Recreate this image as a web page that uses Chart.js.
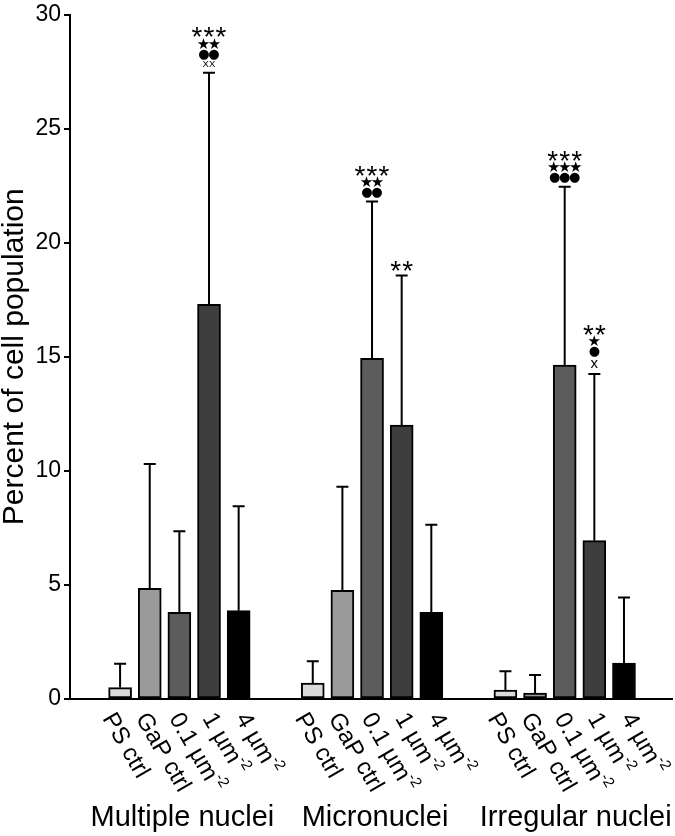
<!DOCTYPE html>
<html>
<head>
<meta charset="utf-8">
<script src="https://cdn.jsdelivr.net/npm/chart.js@4.4.0/dist/chart.umd.min.js"></script>
<style>
  html, body { margin: 0; padding: 0; background: #fff; }
</style>
</head>
<body>
<canvas id="chart" width="675" height="836"></canvas>
<script>
// --- data ---
const groups = ['Multiple nuclei', 'Micronuclei', 'Irregular nuclei'];
const conditions = ['PS ctrl', 'GaP ctrl', '0.1 µm', '1 µm', '4 µm'];
const conditionSup = ['', '', '-2', '-2', '-2'];
const conditionColors = ['#dadada', '#9a9a9a', '#5c5c5c', '#3e3e3e', '#000000'];

const multipleMean = [0.5, 4.85, 3.8, 17.3, 3.87];
const multipleErr = [1.05, 5.45, 3.55, 10.15, 4.58];
const microMean = [0.7, 4.76, 14.93, 12.0, 3.8];
const microErr = [0.95, 4.54, 6.87, 6.56, 3.84];
const irregularMean = [0.39, 0.26, 14.63, 6.94, 1.57];
const irregularErr = [0.83, 0.79, 7.82, 7.3, 2.88];

// significance marks, top line first
const multipleSig = [[], [], [], ['***', '★★', '●●', 'XX'], []];
const microSig = [[], [], ['***', '★★', '●●'], ['**'], []];
const irregularSig = [[], [], ['***', '★★★', '●●●'], ['**', '★', '●', 'x'], []];

const yMin = 0, yMax = 30, yStep = 5;
const yTitle = 'Percent of cell population';

// --- layout ---
const groupStep = 6.5; // bar slots from one group to the next
const FONT = '"Liberation Sans", Arial, Helvetica, sans-serif';
const SYM = '"DejaVu Sans", sans-serif';
const labelAngle = 60 * Math.PI / 180;

const means = [multipleMean, microMean, irregularMean];
const errs = [multipleErr, microErr, irregularErr];
const sigs = [multipleSig, microSig, irregularSig];

const points = [];
const colors = [];
const flatErr = [];
const flatSig = [];
means.forEach((arr, g) => {
  arr.forEach((v, i) => {
    points.push({ x: g * groupStep + i, y: v });
    colors.push(conditionColors[i]);
    flatErr.push(errs[g][i]);
    flatSig.push(sigs[g][i]);
  });
});

const markStyle = {
  '*': { font: '28px ' + FONT, step: 12, half: 5 },
  '★': { font: '15px ' + SYM, step: 11, half: 4 },
  '●': { font: '13px ' + SYM, step: 10, half: 4 },
  'X': { font: '9.5px ' + FONT, step: 6.5, half: 3.5 },
  'x': { font: '15px ' + FONT, step: 7, half: 5.5 },
};

function drawGlyph(ctx, ch, cx, cy) {
  const m = ctx.measureText(ch);
  const mid = (m.actualBoundingBoxDescent - m.actualBoundingBoxAscent) / 2;
  ctx.fillText(ch, cx, cy - mid);
}

const extras = {
  id: 'extras',
  afterDatasetsDraw(chart) {
    const { ctx } = chart;
    const yScale = chart.scales.y;
    const bars = chart.getDatasetMeta(0).data;
    ctx.save();
    ctx.strokeStyle = '#000';
    ctx.fillStyle = '#000';
    ctx.lineWidth = 2;
    bars.forEach((bar, k) => {
      const top = yScale.getPixelForValue(points[k].y + flatErr[k]);
      ctx.beginPath();
      ctx.moveTo(bar.x, bar.y);
      ctx.lineTo(bar.x, top);
      ctx.moveTo(bar.x - 6, top);
      ctx.lineTo(bar.x + 6, top);
      ctx.stroke();

      // significance marks stacked above the cap
      const lines = flatSig[k];
      let edge = top - 5;
      ctx.textAlign = 'center';
      ctx.textBaseline = 'alphabetic';
      for (let l = lines.length - 1; l >= 0; l--) {
        const s = lines[l];
        const st = markStyle[s[0]];
        const cy = edge - st.half;
        ctx.font = st.font;
        for (let c = 0; c < s.length; c++) {
          drawGlyph(ctx, s[c], bar.x + (c - (s.length - 1) / 2) * st.step, cy);
        }
        edge = cy - st.half - 2.5;
      }
    });
    ctx.restore();
  },
  afterDraw(chart) {
    const { ctx } = chart;
    const xScale = chart.scales.x;
    const base = chart.chartArea.bottom;
    ctx.save();
    ctx.fillStyle = '#000';
    // rotated condition labels under each bar
    points.forEach((p, k) => {
      const i = k % conditions.length;
      const x = xScale.getPixelForValue(p.x) + (i - 2) * 3.7 - 5;
      ctx.save();
      ctx.translate(x, base + 16);
      ctx.rotate(labelAngle);
      ctx.font = '24px ' + FONT;
      ctx.textAlign = 'left';
      ctx.textBaseline = 'middle';
      ctx.fillText(conditions[i], 0, 0);
      if (conditionSup[i]) {
        const w = ctx.measureText(conditions[i]).width;
        ctx.font = '15px ' + FONT;
        ctx.fillText(conditionSup[i], w, -8);
      }
      ctx.restore();
    });
    // group names
    ctx.font = '29px ' + FONT;
    ctx.textAlign = 'center';
    ctx.textBaseline = 'alphabetic';
    const nudge = [3, 3, 11];
    groups.forEach((name, g) => {
      const cx = xScale.getPixelForValue(g * groupStep + 2) + nudge[g];
      ctx.fillText(name, cx, 826);
    });
    ctx.restore();
  },
};

new Chart(document.getElementById('chart'), {
  type: 'bar',
  data: {
    datasets: [{
      data: points,
      backgroundColor: colors,
      borderColor: '#000',
      borderWidth: 2,
      borderSkipped: false,
      barThickness: 23,
    }],
  },
  options: {
    responsive: false,
    animation: false,
    layout: { padding: { top: 1, right: 3, left: 0, bottom: 0 } },
    plugins: { legend: { display: false }, tooltip: { enabled: false } },
    scales: {
      x: {
        type: 'linear',
        offset: false,
        min: -1.69,
        max: 18.62,
        ticks: { display: false },
        grid: { display: false, offset: false },
        border: { display: true, color: '#000', width: 2 },
        afterFit: (s) => { s.height = 137; },
      },
      y: {
        min: yMin,
        max: yMax,
        ticks: {
          stepSize: yStep,
          color: '#000',
          padding: 3,
          font: { family: FONT, size: 23, lineHeight: 1 },
        },
        grid: { drawOnChartArea: false, drawTicks: true, tickLength: 6, color: '#000', lineWidth: 2 },
        border: { display: true, color: '#000', width: 2 },
        title: {
          display: true,
          text: yTitle,
          color: '#000',
          padding: 0,
          font: { family: FONT, size: 30, lineHeight: 1 },
        },
        afterFit: (s) => { s.width = 70; },
      },
    },
  },
  plugins: [extras],
});
</script>
</body>
</html>
